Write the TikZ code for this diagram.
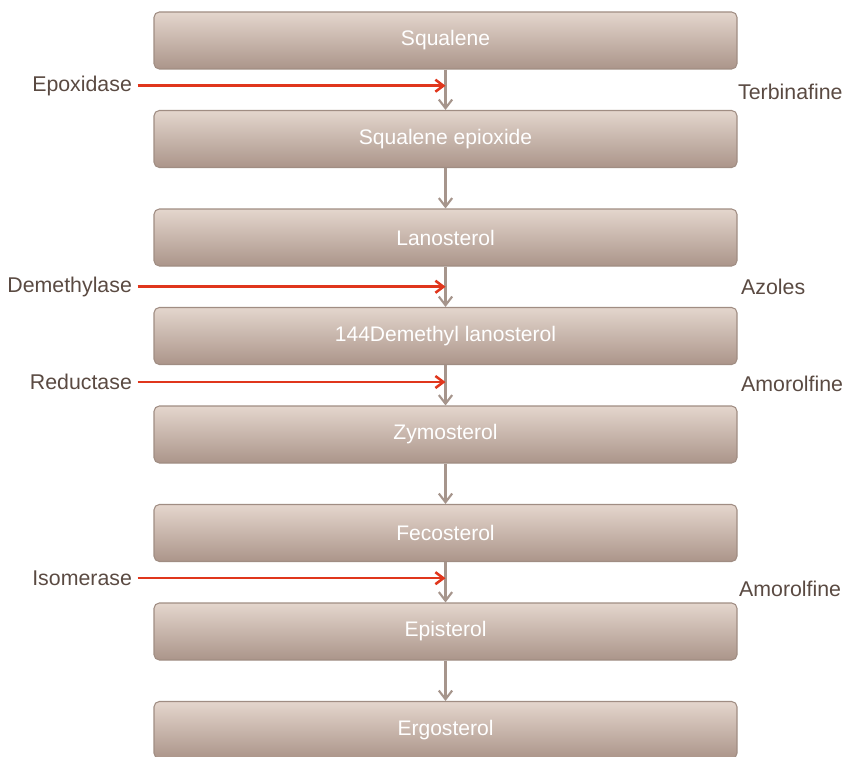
\documentclass[tikz,border=0pt]{standalone}
\usepackage{fontspec}
\setmainfont{Liberation Sans}
\usepackage{tikz}
\usetikzlibrary{positioning,calc,arrows.meta}
\definecolor{boxtop}{HTML}{E4D6CD}
\definecolor{boxbot}{HTML}{AB958A}
\definecolor{boxline}{HTML}{A08D83}
\definecolor{flowgray}{HTML}{A6958C}
\definecolor{inhibred}{HTML}{E0361C}
\definecolor{labtext}{HTML}{5A4A42}

\tikzset{
  sterol/.style={rectangle,rounded corners=4pt,draw=boxline,line width=0.8pt,
    top color=boxtop,bottom color=boxbot,minimum width=437.25pt,
    minimum height=42.75pt,text=white,font=\fontsize{15.8}{19}\selectfont,on grid},
  enzyme/.style={inner sep=4pt,text=labtext,font=\fontsize{16}{19}\selectfont},
  drug/.style={inner sep=1pt,anchor=west,text=labtext,font=\fontsize{16}{19}\selectfont},
  flow/.style={draw=flowgray,line width=1.6pt,-{Straight Barb[length=6.5pt,width=10pt]}},
  block/.style={draw=inhibred,line width=1.9pt,-{Straight Barb[length=6pt,width=9pt]}}
}

\begin{document}
\begin{tikzpicture}[x=0.75pt,y=-0.75pt,node distance=73.875pt]
  \useasboundingbox (0,0) rectangle (848,756);
  \node[sterol] (sq)              at (445.5,40.5) {Squalene};
  \node[sterol] (sqe)  [below=of sq]   {Squalene epioxide};
  \node[sterol] (lan)  [below=of sqe]  {Lanosterol};
  \node[sterol] (dml)  [below=of lan]  {144Demethyl lanosterol};
  \node[sterol] (zym)  [below=of dml]  {Zymosterol};
  \node[sterol] (fec)  [below=of zym]  {Fecosterol};
  \node[sterol] (epi)  [below=of fec]  {Episterol};
  \node[sterol] (erg)  [below=of epi]  {Ergosterol};

  \path[flow] (sq) edge (sqe)
              (sqe) edge (lan)
              (lan) edge (dml)
              (dml) edge (zym)
              (zym) edge (fec)
              (fec) edge (epi)
              (epi) edge (erg);

  % enzyme steps hit by the drugs
  \coordinate (c1) at ($(sq.south)!0.4!(sqe.north)$);
  \coordinate (c2) at ($(lan.south)!0.5!(dml.north)$);
  \coordinate (c3) at ($(dml.south)!0.42!(zym.north)$);
  \coordinate (c4) at ($(fec.south)!0.4!(epi.north)$);

  \node[enzyme, left=231pt of c1] (epox)  {Epoxidase};
  \node[enzyme, left=231pt of c2] (demet) {Demethylase};
  \node[enzyme, left=231pt of c3] (reduc) {Reductase};
  \node[enzyme, left=231pt of c4] (isom)  {Isomerase};

  \draw[block] (epox) -- (c1);
  \draw[block] (demet) -- (c2);
  \draw[block] (reduc) -- (c3);
  \draw[block] (isom) -- (c4);

  \node[drug] (terb) at ($(c1 -| sq.east)+(-1,6)$)  {Terbinafine};
  \node[drug] (azol) at ($(c2 -| sq.east)+(2,0)$)  {Azoles};
  \node[drug] (amo1) at ($(c3 -| sq.east)+(2,2)$)  {Amorolfine};
  \node[drug] (amo2) at ($(c4 -| sq.east)+(0,11)$) {Amorolfine};
\end{tikzpicture}
\end{document}
